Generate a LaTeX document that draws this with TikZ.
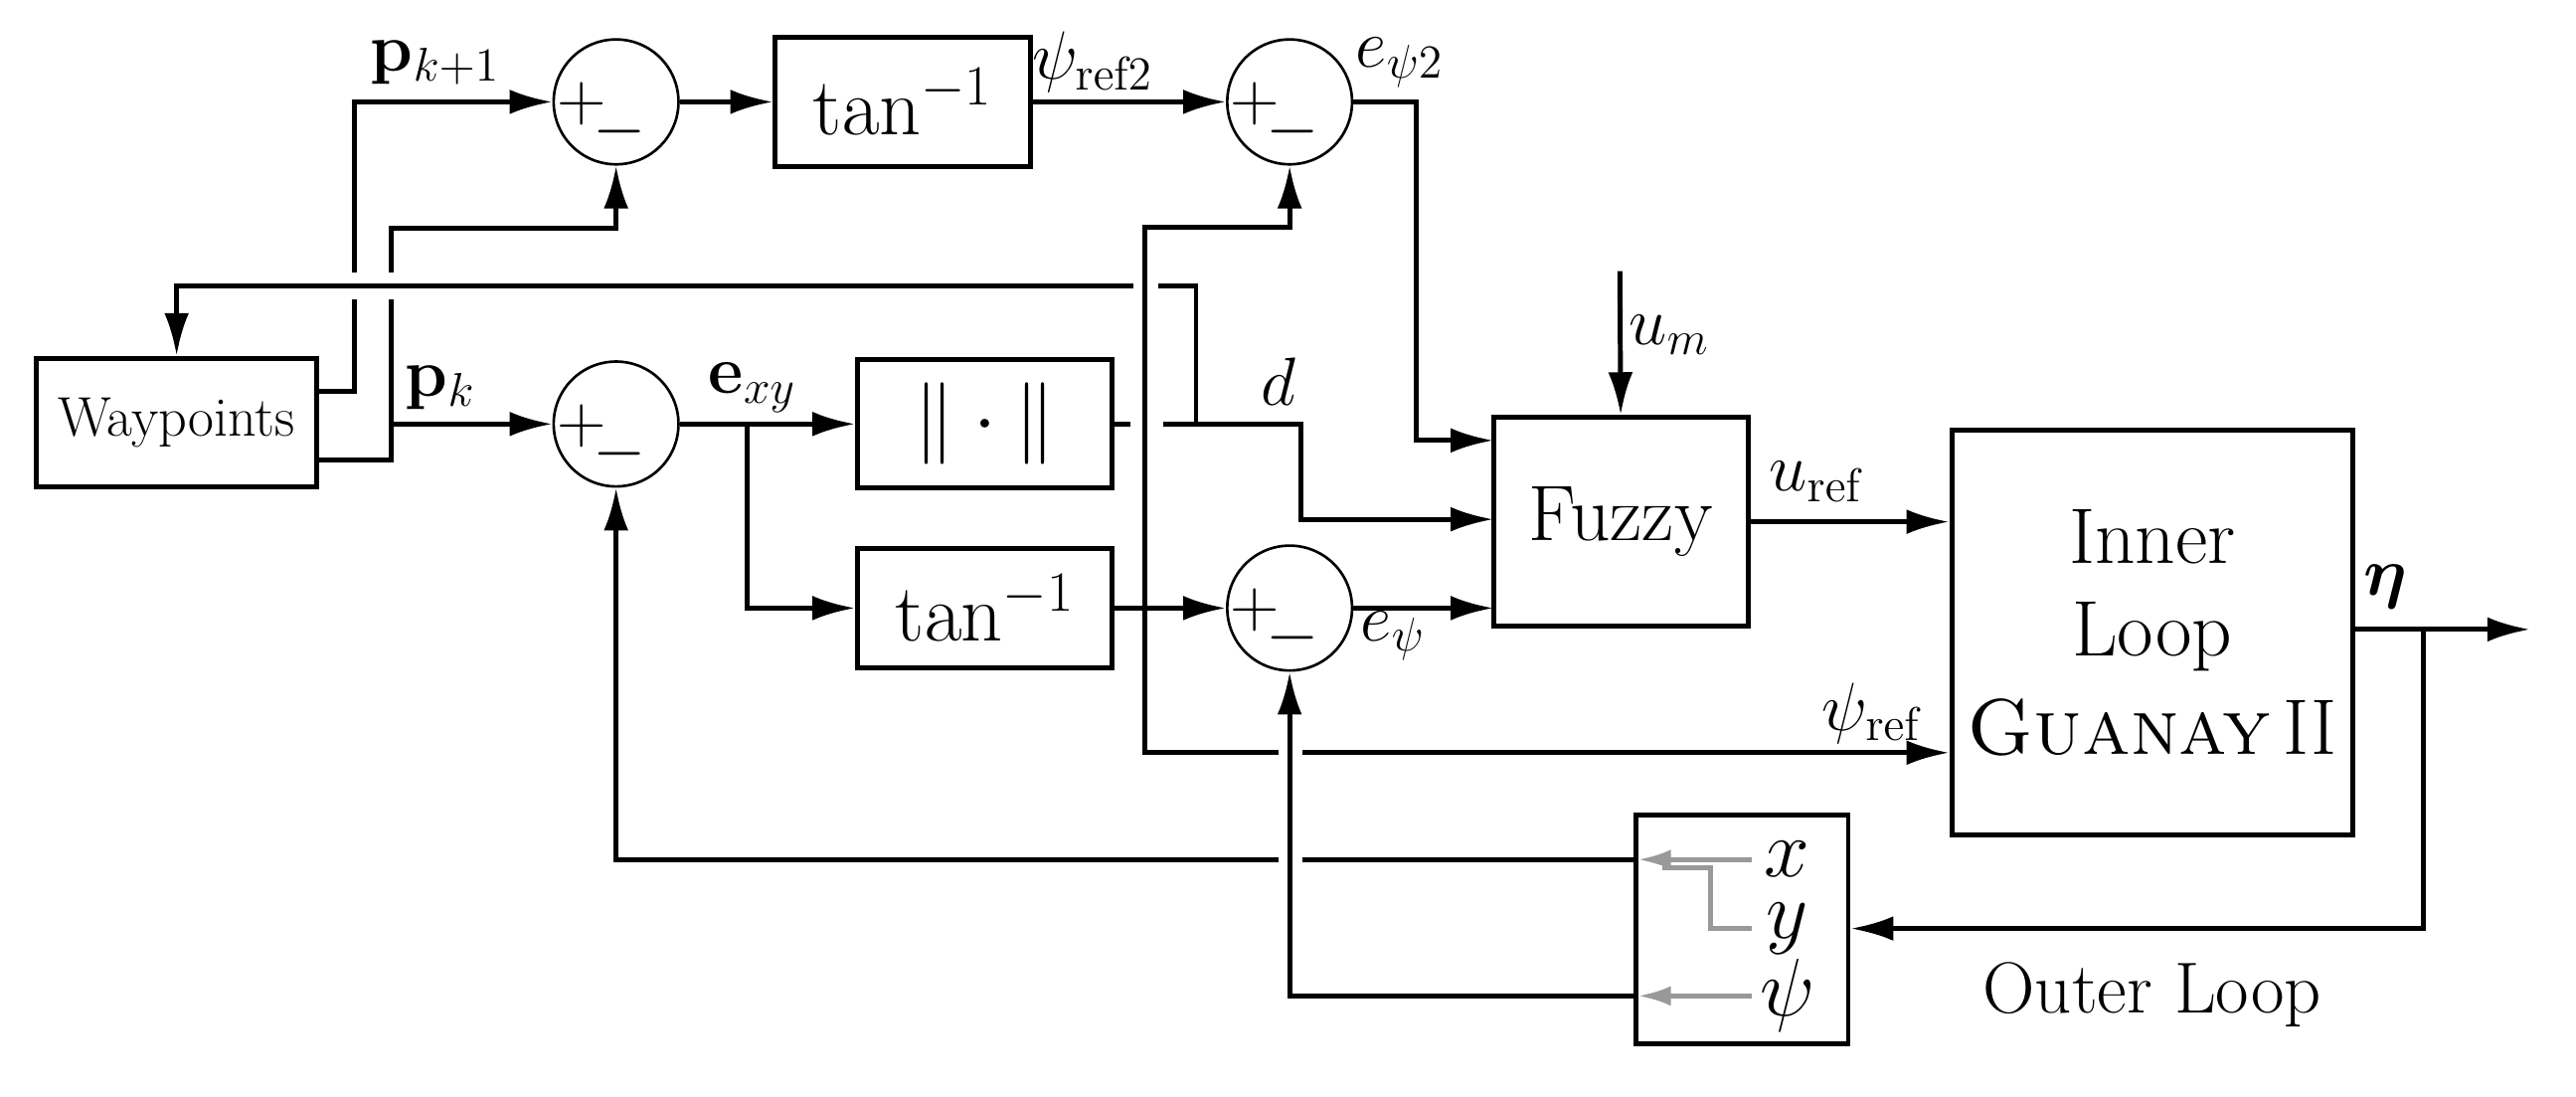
\documentclass[tikz,border=0pt]{standalone}
\usepackage{amsmath,amssymb,bm}
\usetikzlibrary{arrows.meta}
\begin{document}
\begin{tikzpicture}[x=0.5pt,y=-0.5pt,
  ln/.style={line width=1.5pt},
  arr/.style={ln,-{Latex[length=13pt,width=7.5pt]}},
  blk/.style={draw,line width=1.5pt,inner sep=0pt,font=\fontsize{24}{28}\selectfont},
  sum/.style={draw,circle,line width=0.8pt,minimum size=38pt,inner sep=0pt},
  lbl/.style={font=\fontsize{21}{25}\selectfont,inner sep=1pt},
  sg/.style={font=\fontsize{22}{24}\selectfont,inner sep=0pt},
  gr/.style={draw=black!40,line width=1.4pt}]
\useasboundingbox (0,0) rectangle (1568,667);
% blocks
\node[blk,minimum width=85.5pt,minimum height=39pt,font=\fontsize{17}{20}\selectfont] (wp) at (107.5,257) {Waypoints};
\node[blk,minimum width=77.5pt,minimum height=39.5pt] (tanA) at (549.5,62) {$\tan^{-1}$};
\node[blk,minimum width=77.5pt,minimum height=39pt] (norm) at (599.5,258) {$\|\cdot\|$};
\node[blk,minimum width=77.5pt,minimum height=36.5pt] (tanB) at (599.5,370) {$\tan^{-1}$};
\node[blk,minimum width=77.5pt,minimum height=63.5pt] (fz) at (986.5,317.5) {Fuzzy};
\node[blk,minimum width=122pt,minimum height=123pt,align=center] (inner) at (1310,385) {Inner\\Loop\\[2pt]\textsc{Guanay}\,II};
\node[blk,minimum width=64.5pt,minimum height=69.5pt] (outer) at (1060.5,565.5) {};
\node[lbl,font=\fontsize{22}{26}\selectfont] (ol) at (1310,605) {Outer Loop};
% sums
\foreach \n/\x/\y in {s1/375/62, s3/785/62, s2/375/258, s4/785/370}{
  \node[sum] (\n) at (\x,\y) {};
  \node[sg] (\n p) at (\x-21,\y+1) {$+$};
  \node[sg] (\n m) at (\x+2,\y+18) {$-$};
}
% coordinates
\coordinate (wA) at (193,238);
\coordinate (wB) at (193,280);
\coordinate (um) at (986,165);
\coordinate (eta) at (1540,383);
% waypoint outputs
\draw[ln] (wA) -- (216,238) -- (216,182);
\draw[arr] (216,166) |- (s1.west);
\draw[ln] (wB) -- (238,280) -- (238,182);
\draw[arr] (238,166) -- (238,139) -| (s1.south);
\draw[arr] (238,258) -- (s2.west);
\draw[arr] (s1.east) -- (tanA.west);
\draw[arr] (tanA.east) -- (s3.west);
\draw[arr] (s3.east) -- (862,62) -- (862,268) -- (909,268);
\draw[arr] (s2.east) -- (norm.west);
\draw[arr] (455,258) |- (tanB.west);
\draw[ln] (norm.east) -- (688,258);
\draw[arr] (708,258) -- (792,258) -- (792,316) -- (909,316);
\draw[ln] (728,258) -- (728,174) -- (705,174);
\draw[arr] (690,174) -- (107.5,174) -- (wp.north);
\draw[arr] (tanB.east) -- (s4.west);
\draw[arr] (s4.east) -- (909,370);
\draw[arr] (um) -- (fz.north);
\draw[arr] (fz.east) -- (inner.west|-fz.east);
% psi_ref
\draw[arr] (778,458) -- (697,458) -- (697,138) -| (s3.south);
\draw[arr] (793,458) -- (inner.west|-0,458);
% eta
\draw[arr] (inner.east|-eta) -- (eta);
\draw[arr] (1475,383) |- (outer.east|-0,565);
% feedback
\draw[ln] (996,523) -- (793,523);
\draw[arr] (778,523) -| (s2.south);
\draw[arr] (996,606) -| (s4.south);
% inside outer
\draw[gr,-{Latex[length=10pt,width=6pt]}] (1066,523) -- (997,523);
\draw[gr,-{Latex[length=10pt,width=6pt]}] (1066,606) -- (997,606);
\draw[gr] (1066,565) -- (1041,565) -- (1041,528) -- (1012,528);
\node[lbl,font=\fontsize{23}{26}\selectfont] (lx) at (1088,523) {$x$};
\node[lbl,font=\fontsize{23}{26}\selectfont] (ly) at (1088,565) {$y$};
\node[lbl,font=\fontsize{23}{26}\selectfont] (lp) at (1088,606) {$\psi$};
% labels
\node[lbl] (l1) at (265,38) {$\mathbf{p}_{k+1}$};
\node[lbl] (l2) at (268,236) {$\mathbf{p}_{k}$};
\node[lbl] (l3) at (665,38) {$\psi_{\mathrm{ref2}}$};
\node[lbl] (l4) at (852,38) {$e_{\psi 2}$};
\node[lbl] (l5) at (458,236) {$\mathbf{e}_{xy}$};
\node[lbl] (l6) at (778,232) {$d$};
\node[lbl] (l7) at (1016,204) {$u_m$};
\node[lbl] (l8) at (1106,293) {$u_{\mathrm{ref}}$};
\node[lbl] (l9) at (848,387) {$e_\psi$};
\node[lbl] (l10) at (1140,434) {$\psi_{\mathrm{ref}}$};
\node[lbl] (l11) at (1452,357) {$\bm{\eta}$};
\end{tikzpicture}
\end{document}
